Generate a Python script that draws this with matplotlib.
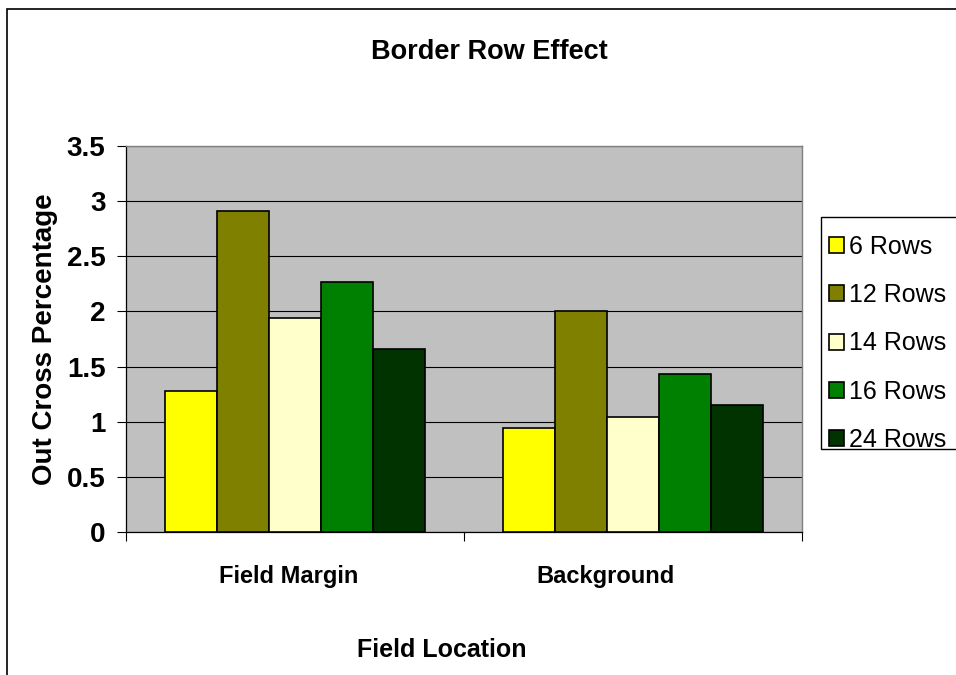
import numpy as np
import matplotlib
matplotlib.use("Agg")
import matplotlib.pyplot as plt
from matplotlib.patches import Rectangle
from matplotlib.transforms import ScaledTranslation

plt.rcParams["font.family"] = ["Liberation Sans", "DejaVu Sans"]

# ── Data ─────────────────────────────────────────────────────────────────────
locations = ["Field Margin", "Background"]
series    = ["6 Rows", "12 Rows", "14 Rows", "16 Rows", "24 Rows"]
rows_6    = [1.28, 0.94]
rows_12   = [2.91, 2.00]
rows_14   = [1.94, 1.04]
rows_16   = [2.27, 1.43]
rows_24   = [1.66, 1.15]
values    = [rows_6, rows_12, rows_14, rows_16, rows_24]
y_ticks   = [0, 0.5, 1, 1.5, 2, 2.5, 3, 3.5]
y_labels  = ["0", "0.5", "1", "1.5", "2", "2.5", "3", "3.5"]

COLORS = ["#FFFF00", "#808000", "#FFFFCC", "#008000", "#003300"]
PLOT_BG = "#C0C0C0"

# ── Figure / plot area ───────────────────────────────────────────────────────
W, H = 956, 675
fig = plt.figure(figsize=(W / 100, H / 100), dpi=100)
fig.patch.set_facecolor("white")

def px(x0, y0, x1, y1):
    return [x0 / W, 1 - y1 / H, (x1 - x0) / W, (y1 - y0) / H]

ax = fig.add_axes(px(125.7, 146, 802.3, 532))
ax.set_facecolor(PLOT_BG)

# chart border (runs off the right / bottom edge)
fig.add_artist(Rectangle((7 / W, -0.2), 1.2, 1.2 - 9 / H, transform=fig.transFigure,
                         fill=False, edgecolor="black", linewidth=1.2, zorder=0))

# ── Bars ─────────────────────────────────────────────────────────────────────
x = np.arange(len(locations))
bw = 1 / 6.5
for j, (name, vals) in enumerate(zip(series, values)):
    ax.bar(x + (j - 2) * bw, vals, width=bw, color=COLORS[j], edgecolor="black",
           linewidth=1.2, label=name, zorder=3)

# ── Axes styling ─────────────────────────────────────────────────────────────
ax.set_xlim(-0.5, len(locations) - 0.5)
ax.set_ylim(0, 3.5)
ax.set_yticks(y_ticks)
ax.set_yticklabels(y_labels, fontsize=20, fontweight="bold")
ax.yaxis.grid(True, color="black", linewidth=0.8, zorder=1)
ax.set_axisbelow(True)
ax.tick_params(axis="y", direction="out", length=6.5, width=0.8, pad=8)

# category boundaries as major ticks, labels on minor ticks
ax.set_xticks(np.arange(-0.5, len(locations), 1.0))
ax.set_xticklabels([])
ax.tick_params(axis="x", which="major", direction="out", length=6.5, width=0.8)
ax.set_xticks(x, minor=True)
ax.set_xticklabels(locations, minor=True, fontsize=17, fontweight="bold")
ax.tick_params(axis="x", which="minor", length=0, pad=24)
for lbl, dx in zip(ax.get_xticklabels(minor=True), [-6, -28]):
    lbl.set_transform(lbl.get_transform() + ScaledTranslation(dx / 100, 0, fig.dpi_scale_trans))

for side in ["top", "right"]:
    ax.spines[side].set_color("#808080")
    ax.spines[side].set_linewidth(1.0)
for side in ["left", "bottom"]:
    ax.spines[side].set_color("black")
    ax.spines[side].set_linewidth(0.9)

ax.set_ylabel("Out Cross Percentage", fontsize=20, fontweight="bold", labelpad=6)
ax.set_xlabel("Field Location", fontsize=18, fontweight="bold")
ax.xaxis.set_label_coords((441.5 - 125.7) / 676.6, -(638 - 532) / 386)

fig.text(489 / W, 1 - 52 / H, "Border Row Effect", ha="center", va="center",
         fontsize=19.5, fontweight="bold")

# ── Legend ───────────────────────────────────────────────────────────────────
fig.add_artist(Rectangle((820.7 / W, 1 - 449 / H), 0.3, (449 - 217) / H,
                         transform=fig.transFigure, facecolor="white",
                         edgecolor="black", linewidth=1.0, zorder=2))
leg = fig.legend(loc="upper left", bbox_to_anchor=(829 / W, 1 - 235 / H),
                 bbox_transform=fig.transFigure, fontsize=18, frameon=False,
                 borderpad=0, labelspacing=0.97,
                 handlelength=0.6, handleheight=0.6, handletextpad=0.2,
                 borderaxespad=0)
leg.set_zorder(3)

fig.savefig("out.png", dpi=100, facecolor="white")
